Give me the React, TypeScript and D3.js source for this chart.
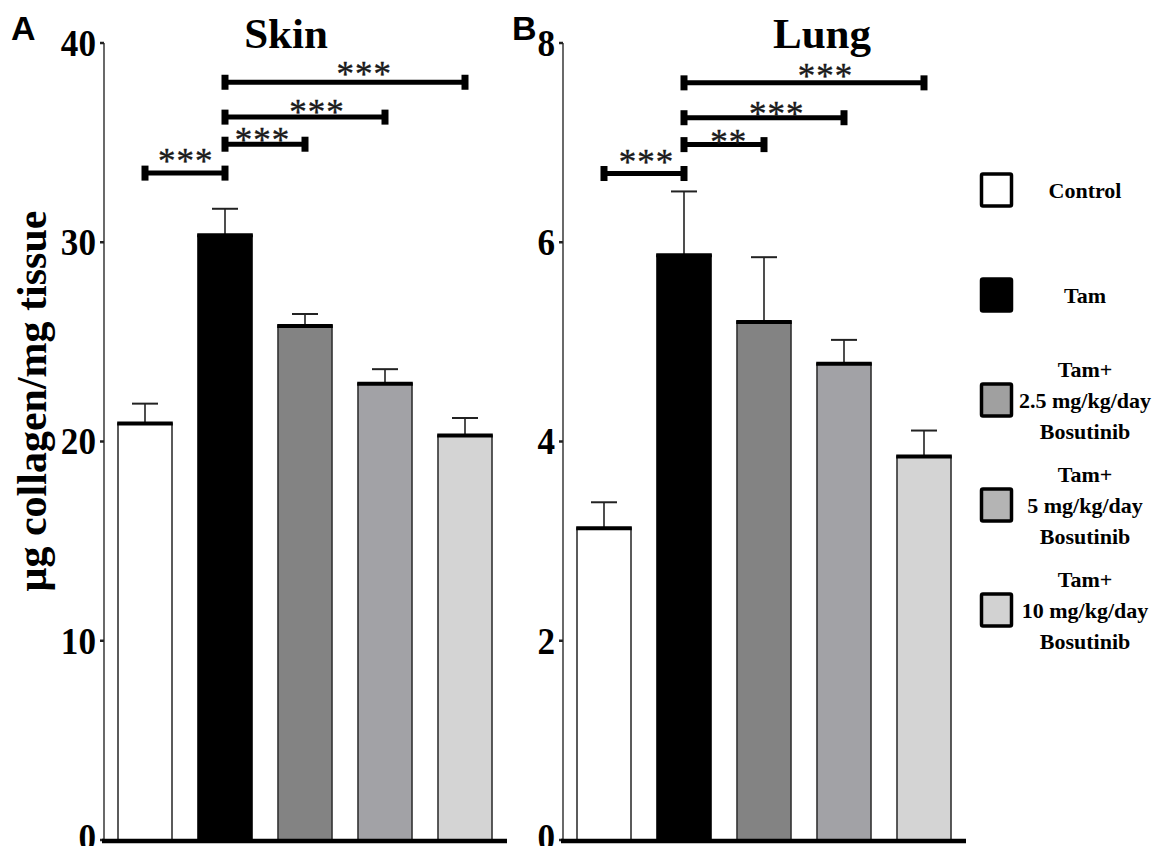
import React from "react";
import * as d3 from "d3";

const groups = ["Control", "Tam", "Tam+2.5", "Tam+5", "Tam+10"];
const skinMeans = [20.9, 30.35, 25.8, 22.9, 20.3];
const skinErrs = [1.0, 1.33, 0.6, 0.73, 0.88];
const lungMeans = [3.13, 5.87, 5.2, 4.78, 3.85];
const lungErrs = [0.26, 0.64, 0.65, 0.24, 0.26];
const skinTicks = [0, 10, 20, 30, 40];
const lungTicks = [0, 2, 4, 6, 8];
const barColors = ["#ffffff", "#000000", "#838383", "#a2a2a6", "#d4d4d4"];
const legendColors = ["#ffffff", "#000000", "#a0a0a0", "#b4b4b4", "#d2d2d2"];
const legendLabels = [
  ["Control"],
  ["Tam"],
  ["Tam+", "2.5 mg/kg/day", "Bosutinib"],
  ["Tam+", "5 mg/kg/day", "Bosutinib"],
  ["Tam+", "10 mg/kg/day", "Bosutinib"],
];
// brackets: [fromIndex, toIndex, level (data units), stars, starCenter (data units), starPosFraction]
const skinBrackets: [number, number, number, string, number, number][] = [
  [0, 1, 33.47, "***", 34.27, 0.51],
  [1, 2, 34.92, "***", 35.32, 0.47],
  [1, 3, 36.28, "***", 36.73, 0.575],
  [1, 4, 38.03, "***", 38.64, 0.58],
];
const lungBrackets: [number, number, number, string, number, number][] = [
  [0, 1, 6.69, "***", 6.85, 0.53],
  [1, 2, 6.98, "**", 7.05, 0.56],
  [1, 3, 7.25, "***", 7.33, 0.58],
  [1, 4, 7.6, "***", 7.71, 0.59],
];

const SERIF = "'Liberation Serif', 'Times New Roman', serif";
const SANS = "'Liberation Sans', Arial, sans-serif";

type PanelProps = {
  x0: number;
  title: string;
  titleX: number;
  letter: string;
  letterX: number;
  means: number[];
  errs: number[];
  ticks: number[];
  maxY: number;
  brackets: [number, number, number, string, number, number][];
};

function Panel(p: PanelProps) {
  const yTop = 43;
  const yBot = 840;
  const x = d3
    .scaleBand<string>()
    .domain(groups)
    .range([p.x0, p.x0 + 400])
    .paddingInner(0.325)
    .paddingOuter(0.1625);
  const y = d3.scaleLinear().domain([0, p.maxY]).range([yBot, yTop]);
  const bw = x.bandwidth();
  const cx = (i: number) => (x(groups[i]) as number) + bw / 2;
  const axisX = p.x0 - 1;
  return (
    <g>
      <text x={p.letterX} y={40} fontFamily={SANS} fontWeight="bold" fontSize={34}>
        {p.letter}
      </text>
      <text
        x={p.titleX}
        y={48}
        textAnchor="middle"
        fontFamily={SERIF}
        fontWeight="bold"
        fontSize={43}
      >
        {p.title}
      </text>
      {/* bars */}
      {groups.map((g, i) => {
        const xb = x(g) as number;
        const top = y(p.means[i]);
        const cap = y(p.means[i] + p.errs[i]);
        return (
          <g key={g}>
            <line x1={cx(i)} x2={cx(i)} y1={top} y2={cap} stroke="#222" strokeWidth={1.6} />
            <line x1={cx(i) - 13} x2={cx(i) + 13} y1={cap} y2={cap} stroke="#222" strokeWidth={2} />
            <rect
              x={xb}
              y={top}
              width={bw}
              height={yBot - top}
              fill={barColors[i]}
              stroke={i === 1 ? "#000" : "#333"}
              strokeWidth={1.6}
            />
            <line x1={xb - 0.8} x2={xb + bw + 0.8} y1={top} y2={top} stroke="#000" strokeWidth={4} />
          </g>
        );
      })}
      {/* y axis */}
      <line x1={axisX} x2={axisX} y1={yTop} y2={yBot} stroke="#444" strokeWidth={1.6} />
      {p.ticks.map((t) => (
        <g key={t}>
          <line x1={axisX - 4} x2={axisX} y1={y(t)} y2={y(t)} stroke="#222" strokeWidth={2.5} />
          <text
            x={axisX - 8}
            y={y(t) + (t === 0 ? 10 : 13)}
            textAnchor="end"
            fontFamily={SERIF}
            fontWeight="bold"
            fontSize={37}
            transform={`translate(${axisX - 8},0) scale(0.95,1) translate(${-(axisX - 8)},0)`}
          >
            {t}
          </text>
        </g>
      ))}
      {/* x axis */}
      <line x1={axisX - 2} x2={p.x0 + 402} y1={841} y2={841} stroke="#000" strokeWidth={4.5} />
      {/* significance brackets */}
      {p.brackets.map(([a, b, lv, s, sy, f], k) => {
        const xa = cx(a);
        const xbb = cx(b);
        const yy = y(lv);
        const sx = xa + (xbb - xa) * f;
        return (
          <g key={k}>
            <line x1={xa} x2={xbb} y1={yy} y2={yy} stroke="#000" strokeWidth={5} />
            <rect x={xa - 3.5} y={yy - 7.5} width={7} height={15} fill="#000" />
            <rect x={xbb - 3.5} y={yy - 7.5} width={7} height={15} fill="#000" />
            <text
              x={sx}
              y={y(sy) + 16}
              textAnchor="middle"
              fontFamily={SERIF}
              fontSize={35}
              letterSpacing={1}
              fill="#1a1a1a"
              stroke="#1a1a1a"
              strokeWidth={0.4}
            >
              {s}
            </text>
          </g>
        );
      })}
    </g>
  );
}

function Legend() {
  const sy = d3.scaleLinear().domain([0, 4]).range([190, 610]);
  return (
    <g>
      {legendLabels.map((lines, i) => {
        const c = sy(i);
        const n = lines.length;
        return (
          <g key={i}>
            <rect
              x={981.5}
              y={c - 16}
              width={30}
              height={32}
              fill={legendColors[i]}
              stroke="#000"
              strokeWidth={3.5}
              rx={1.5}
            />
            {lines.map((ln, j) => (
              <text
                key={j}
                x={1085}
                y={c + 8 + (j - (n - 1) / 2) * 31}
                textAnchor="middle"
                fontFamily={SERIF}
                fontWeight="bold"
                fontSize={22}
              >
                {ln}
              </text>
            ))}
          </g>
        );
      })}
    </g>
  );
}

export default function App() {
  return (
    <div style={{ position: "absolute", left: 0, top: 0 }}>
      <svg width={1167} height={846} style={{ display: "block", background: "#fff" }}>
        <rect x={0} y={0} width={1167} height={846} fill="#fff" />
        <text
          transform="translate(46,401) rotate(-90)"
          textAnchor="middle"
          fontFamily={SERIF}
          fontWeight="bold"
          fontSize={42}
        >
          μg collagen/mg tissue
        </text>
        <Panel
          x0={105}
          title="Skin"
          titleX={286}
          letter="A"
          letterX={11}
          means={skinMeans}
          errs={skinErrs}
          ticks={skinTicks}
          maxY={40}
          brackets={skinBrackets}
        />
        <Panel
          x0={564}
          title="Lung"
          titleX={822}
          letter="B"
          letterX={512}
          means={lungMeans}
          errs={lungErrs}
          ticks={lungTicks}
          maxY={8}
          brackets={lungBrackets}
        />
        <Legend />
      </svg>
    </div>
  );
}
